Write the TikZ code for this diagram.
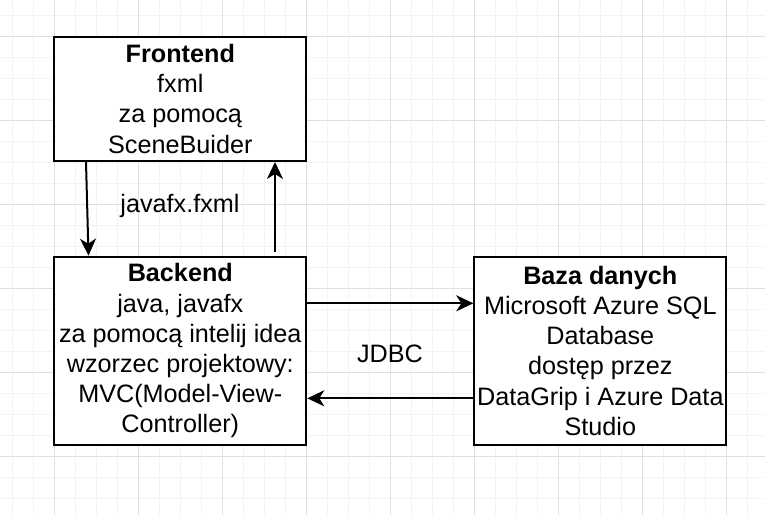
\documentclass[tikz,border=0pt]{standalone}
\usepackage{fontspec}
\setmainfont{Liberation Sans}
\usetikzlibrary{arrows.meta}
\definecolor{gridminor}{HTML}{F3F3F3}
\definecolor{gridmajor}{HTML}{E0E0E0}
\begin{document}
\begin{tikzpicture}[x=1pt,y=-1pt,
  box/.style={draw=black, line width=2pt, fill=white, minimum width=252pt, inner sep=0pt, align=center, font=\fontsize{25.2}{30.2}\selectfont},
  conn/.style={line width=2pt, -{Stealth[length=17pt,width=16pt,inset=5pt]}},
  lbl/.style={font=\fontsize{25.2}{30.2}\selectfont, inner sep=0pt},
  minorline/.style={draw=gridminor, line width=1pt},
  majorline/.style={draw=gridmajor, line width=1pt}]
\fill[white] (0,0) rectangle (765,515);
\useasboundingbox (0,0) rectangle (765,515);
% grid
\foreach \i in {0,...,36} { \draw[minorline] ({12.3+21*\i},0) -- ({12.3+21*\i},515); }
\foreach \i in {0,...,24} { \draw[minorline] (0,{15+21*\i}) -- (765,{15+21*\i}); }
\foreach \i in {0,...,8} { \draw[majorline] ({54.3+84*\i},0) -- ({54.3+84*\i},515); }
\foreach \i in {0,...,5} { \draw[majorline] (0,{36+84*\i}) -- (765,{36+84*\i}); }
% boxes
\node[box, minimum height=124.3pt] (fe) at (180.3,98.8) {\textbf{Frontend}\\fxml\\za pomocą\\SceneBuider};
\node[box, minimum height=188.3pt] (be) at (180.3,350.8) {\textbf{Backend}\\java, javafx\\za pomocą intelij idea\\wzorzec projektowy:\\MVC(Model-View-\\Controller)};
\node[box, minimum height=188.3pt] (db) at (600.3,350.8) {\textbf{Baza danych}\\Microsoft Azure SQL\\Database\\dostęp przez\\DataGrip i Azure Data\\Studio};
% connectors
\draw[conn] ([xshift=-94.3pt]fe.south) -- ([xshift=-91.8pt]be.north);
\draw[conn] ([xshift=94.7pt,yshift=3.7pt]be.north) -- ([xshift=94.7pt]fe.south);
\draw[conn] ([yshift=47.5pt]be.east) -- ([yshift=47.5pt]db.west);
\draw[conn] ([yshift=-47.5pt]db.west) -- ([yshift=-47.5pt]be.east);
% labels
\node[lbl] (l1) at (180,205.7) {javafx.fxml};
\node[lbl] (l2) at (390,354) {JDBC};
\end{tikzpicture}
\end{document}
